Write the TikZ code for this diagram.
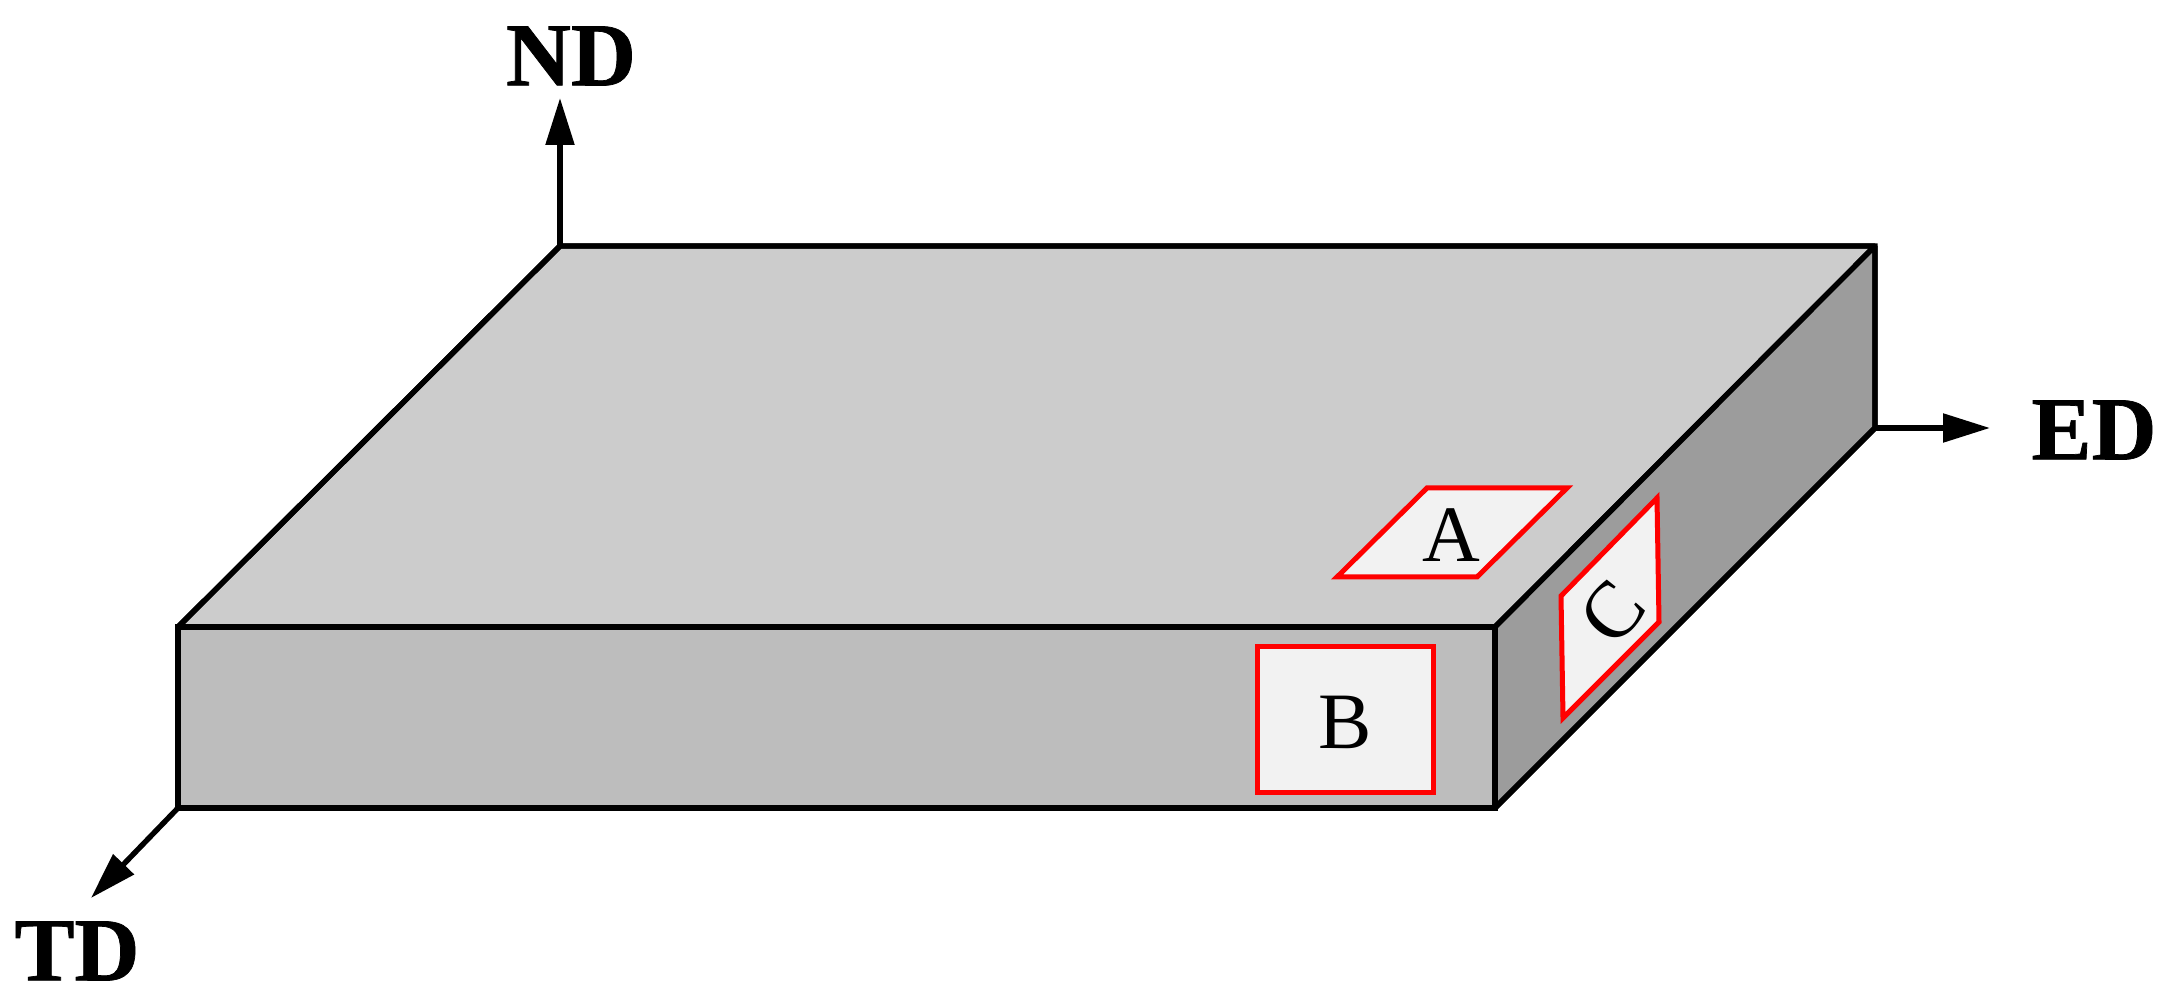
\documentclass[tikz,border=0pt]{standalone}
\usepackage{fontspec}
\setmainfont[BoldFeatures={FakeBold=0.8}]{Liberation Serif}
\usetikzlibrary{arrows.meta}
\definecolor{topgray}{HTML}{CCCCCC}
\definecolor{frontgray}{HTML}{BDBDBD}
\definecolor{sidegray}{HTML}{9C9C9C}
\definecolor{patchgray}{HTML}{F2F2F2}
\tikzset{
	face/.style={draw=black, line width=2.7pt, line join=miter, miter limit=2},
	patch/.style={draw=red, fill=patchgray, line width=2.5pt, line join=miter},
	axis/.style={line width=2.7pt, -{Triangle[length=23.5pt,width=14pt]}},
	axislabel/.style={inner sep=0pt, font=\fontsize{45}{54}\selectfont\bfseries},
	patchlabel/.style={inner sep=0pt, font=\fontsize{40}{48}\selectfont},
}
\begin{document}
\begin{tikzpicture}[x=0.5pt, y=0.5pt]
	\useasboundingbox (0,0) rectangle (2168,996);
	% corners of the plate
	\coordinate (fl) at (178,369);
	\coordinate (fr) at (1495,369);
	\coordinate (frb) at (1495,188);
	\coordinate (flb) at (178,188);
	\coordinate (bl) at (560,750);
	\coordinate (br) at (1875,750);
	\coordinate (brb) at (1875,568);
	% axis ends
	\coordinate (ndtip) at (560,898);
	\coordinate (tdtip) at (91,98);
	\coordinate (edtip) at (1990,568);
	\draw[axis] (bl)--(ndtip);
	\draw[axis] (flb)--(tdtip);
	\draw[axis] (brb)--(edtip);
	% faces
	\draw[face, fill=topgray] (fl)--(bl)--(br)--(fr)--cycle;
	\draw[face, fill=sidegray] (fr)--(br)--(brb)--(frb)--cycle;
	\draw[face, fill=frontgray] (fl)--(fr)--(frb)--(flb)--cycle;
	\draw[face, miter limit=10] (bl)--(br)--(brb)--(frb)--(flb)--(fl)--cycle;
	% sample patches
	\draw[patch] (1427,508)--(1567,508)--(1477,419)--(1337,419)--cycle;
	\draw[patch] (1257,203) rectangle (1433,349);
	\draw[patch] (1657,498)--(1659,374)--(1563,278)--(1561,400)--cycle;
	\node[patchlabel] (lba) at (1451,461) {A};
	\node[patchlabel] (lbb) at (1345,274) {B};
	\node[patchlabel, rotate=50] (lbc) at (1613,384) {C};
	% axis names
	\node[axislabel] (lbnd) at (571,940) {ND};
	\node[axislabel] (lbtd) at (77,45) {TD};
	\node[axislabel] (lbed) at (2094,566) {ED};
\end{tikzpicture}
\end{document}
